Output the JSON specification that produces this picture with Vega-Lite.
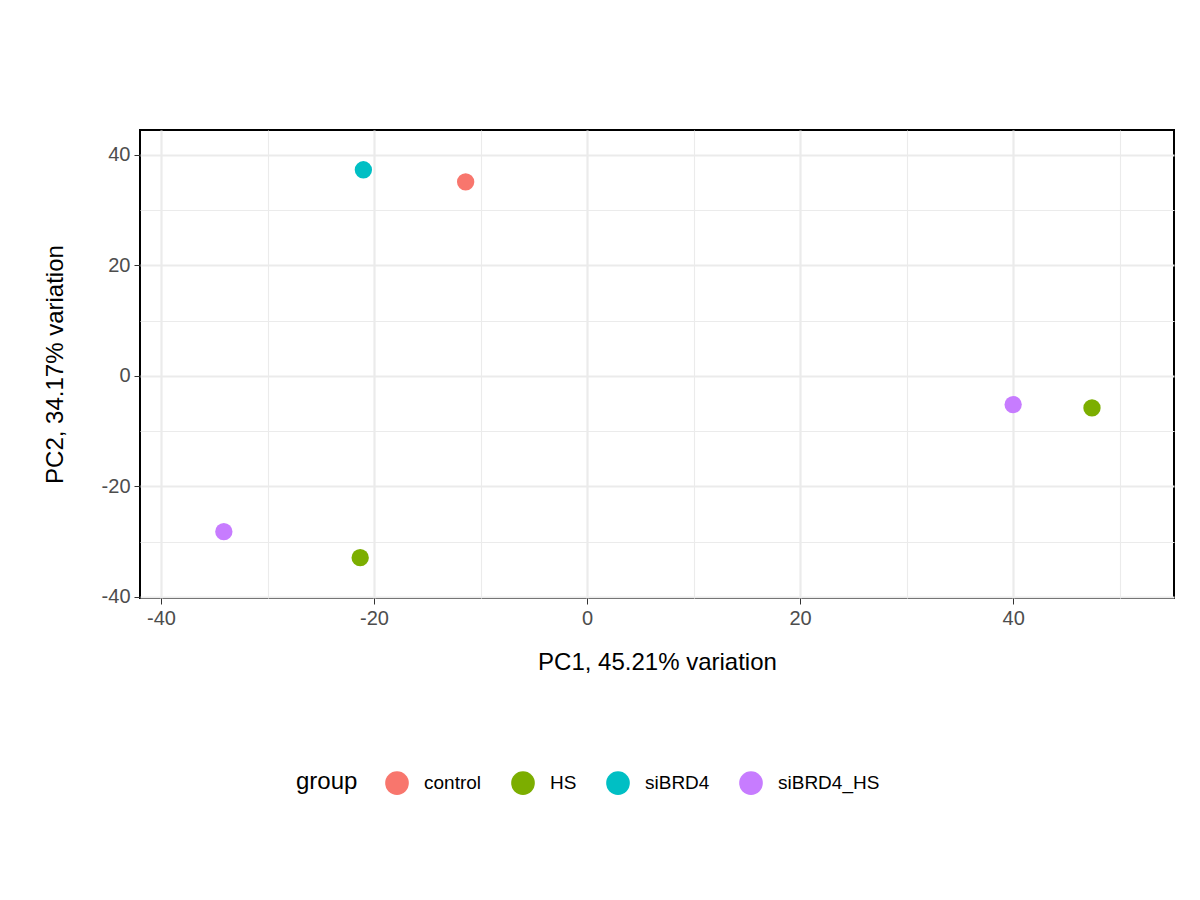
{
  "$schema": "https://vega.github.io/schema/vega-lite/v6.json",
  "width": 1034,
  "height": 468,
  "autosize": "none",
  "padding": {"left": 140, "top": 130, "right": 26, "bottom": 302},
  "background": "white",
  "config": {
    "font": "Liberation Sans",
    "view": {"stroke": "black", "strokeWidth": 2},
    "axis": {
      "labelFontSize": 20, "labelColor": "#4d4d4d", "titleFontSize": 24, "titleFontWeight": "normal", "titleColor": "black",
      "domain": false, "tickColor": "#333", "tickSize": 6, "labelPadding": 4,
      "gridColor": "#ebebeb",
      "gridWidth": {"condition": {"test": "datum.value % 20 === 0", "value": 2.2}, "value": 1.1},
      "tickOpacity": {"condition": {"test": "datum.value % 20 === 0", "value": 1}, "value": 0}
    }
  },
  "data": {"values": [
    {"PC1": -21.0, "PC2": 37.3, "group": "siBRD4"},
    {"PC1": -11.4, "PC2": 35.1, "group": "control"},
    {"PC1": 40.0, "PC2": -5.2, "group": "siBRD4_HS"},
    {"PC1": 47.4, "PC2": -5.8, "group": "HS"},
    {"PC1": -34.1, "PC2": -28.2, "group": "siBRD4_HS"},
    {"PC1": -21.3, "PC2": -32.9, "group": "HS"}
  ]},
  "mark": {"type": "circle", "size": 300, "opacity": 1},
  "encoding": {
    "x": {"field": "PC1", "type": "quantitative", "title": "PC1, 45.21% variation",
      "scale": {"domain": [-41.97, 55.1], "nice": false, "zero": false},
      "axis": {"values": [-40, -30, -20, -10, 0, 10, 20, 30, 40, 50], "labelExpr": "datum.value % 20 === 0 ? replace(datum.label, '\u2212', '-') : ''", "titlePadding": 22}},
    "y": {"field": "PC2", "type": "quantitative", "title": "PC2, 34.17% variation",
      "scale": {"domain": [-40.2, 44.5], "nice": false, "zero": false},
      "axis": {"values": [-40, -30, -20, -10, 0, 10, 20, 30, 40], "labelExpr": "datum.value % 20 === 0 ? replace(datum.label, '\u2212', '-') : ''", "titlePadding": 34}},
    "color": {"field": "group", "type": "nominal",
      "scale": {"domain": ["control", "HS", "siBRD4", "siBRD4_HS"], "range": ["#F8766D", "#7CAE00", "#00BFC4", "#C77CFF"]},
      "legend": {"orient": "none", "legendX": 156, "legendY": 640, "direction": "horizontal", "titleOrient": "left", "titleFontSize": 24, "titleFontWeight": "normal", "titleColor": "black",
        "labelFontSize": 19, "labelColor": "black", "symbolSize": 560, "symbolType": "circle", "columnPadding": 28, "labelOffset": 14, "titleBaseline": "middle", "titlePadding": 26}}
  }
}
